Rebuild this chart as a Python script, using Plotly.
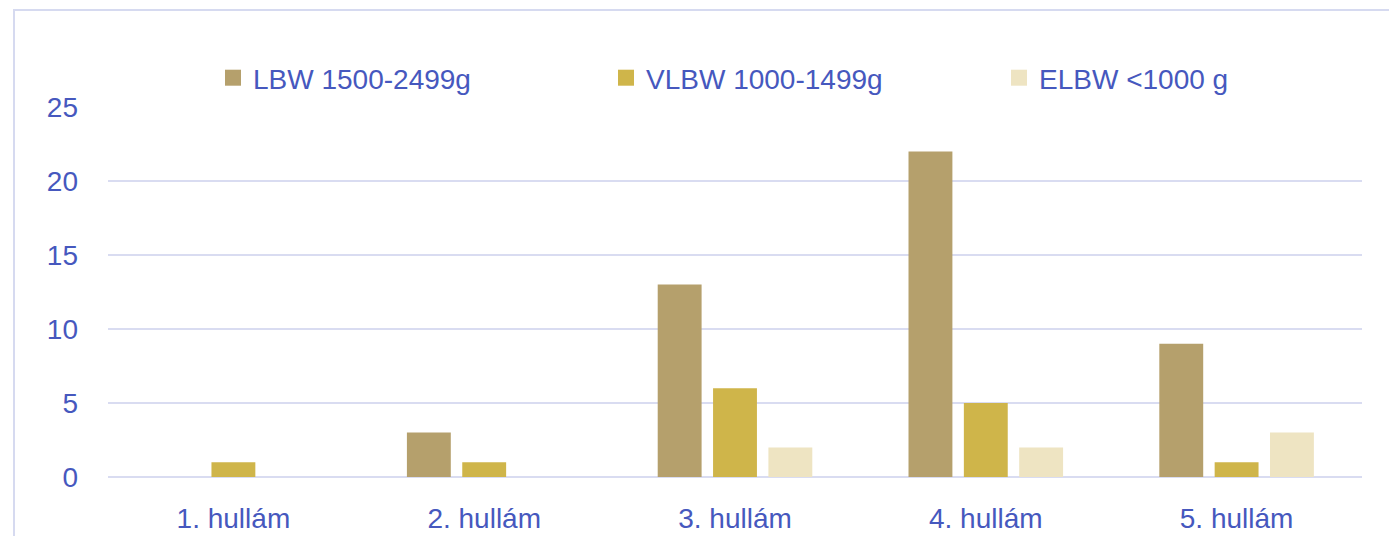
import plotly.graph_objects as go

categories = ["1. hullám", "2. hullám", "3. hullám", "4. hullám", "5. hullám"]
series_names = ["LBW 1500-2499g", "VLBW 1000-1499g", "ELBW <1000 g"]
lbw = [0, 3, 13, 22, 9]
vlbw = [1, 1, 6, 5, 1]
elbw = [0, 0, 2, 2, 3]
y_ticks = [0, 5, 10, 15, 20, 25]

colors = ["#B5A06C", "#CFB54A", "#EEE4C2"]
text_color = "#4658BE"
grid_color = "#D9DCF1"
font_family = "Liberation Sans"

fig = go.Figure()
for name, vals, col in zip(series_names, [lbw, vlbw, elbw], colors):
    fig.add_trace(go.Bar(
        x=categories, y=vals, name=name, legendgroup=name, showlegend=False,
        marker=dict(color=col, line=dict(width=0)),
    ))
    fig.add_trace(go.Scatter(
        x=[None], y=[None], name=name, legendgroup=name, mode="markers",
        marker=dict(symbol="square", size=16, color=col),
    ))

# page body has an 8px offset; work in figure coordinates
OFF = 8
W, H = 1397 - OFF, 536 - OFF
L, R, T, B = 108 - OFF, 35, 107 - OFF, 59
pw, ph = W - L - R, H - T - B

def px2paper(x, y):
    # x, y in window pixels
    return (x - OFF - L) / pw, (H - B - (y - OFF)) / ph

x0, y0 = px2paper(14, 10)
x1, y1 = px2paper(1420, 560)
lx, ly = px2paper(213, 78)

fig.update_layout(
    width=W, height=H,
    margin=dict(l=L, r=R, t=T, b=B, autoexpand=False),
    paper_bgcolor="white", plot_bgcolor="white",
    font=dict(family=font_family, size=28, color=text_color),
    barmode="group", bargap=0.338, bargroupgap=0.207,
    showlegend=True,
    legend=dict(
        orientation="h", x=lx, xanchor="left",
        y=ly, yanchor="middle",
        entrywidth=348, entrywidthmode="pixels",
        itemsizing="trace", font=dict(size=28, color=text_color),
        bgcolor="rgba(0,0,0,0)",
    ),
    xaxis=dict(showgrid=False, showline=False, ticks="", ticklabelstandoff=22,
               automargin=False, tickfont=dict(size=28, color=text_color)),
    yaxis=dict(range=[0, 25], tickvals=y_ticks, showgrid=True, gridcolor=grid_color,
               gridwidth=2, zeroline=True, zerolinecolor=grid_color, zerolinewidth=2,
               showline=False, ticks="", ticklabelstandoff=29, automargin=False,
               tickfont=dict(size=28, color=text_color)),
    shapes=[dict(type="rect", xref="paper", yref="paper", x0=x0, y0=y1, x1=x1, y1=y0,
                 line=dict(color="#D6DAF0", width=2), fillcolor="rgba(0,0,0,0)", layer="below")],
)

fig.write_html("out.html")
